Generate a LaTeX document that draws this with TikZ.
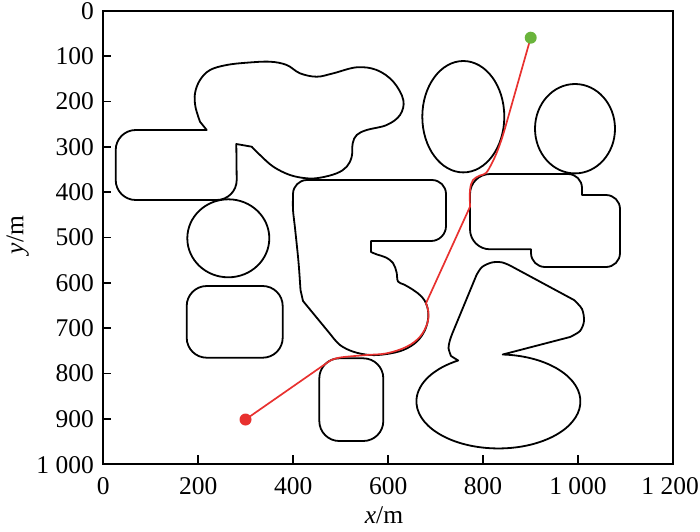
\documentclass[tikz,border=0pt]{standalone}
\usepackage{fontspec}
\setmainfont{Liberation Serif}
\definecolor{pathred}{HTML}{E8312F}
\definecolor{goalgreen}{HTML}{6AB43C}
\begin{document}
\begin{tikzpicture}[x=1pt,y=-1pt,
  obst/.style={draw=black, line width=1.8pt, line join=round},
  frame/.style={draw=black, line width=1.8pt},
  tickmark/.style={draw=black, line width=1.6pt},
  route/.style={draw=pathred, line width=1.7pt, line join=round},
  ticklab/.style={font=\fontsize{25.5}{30}\selectfont, inner sep=0pt},
  dotnode/.style={circle, inner sep=0pt, minimum size=12pt}]
\useasboundingbox (0,0) rectangle (700,531);

% frame and ticks
\draw[frame] (103.3,10.7) rectangle (673,464);
\foreach \xx in {198.25,293.2,388.15,483.1,578.05}
  \draw[tickmark] (\xx,464) -- (\xx,455);
\foreach \yy in {56,101.4,146.7,192,237.4,282.7,328,373.3,418.7}
  \draw[tickmark] (103.3,\yy) -- (111.3,\yy);

% y labels
\foreach \v/\yy in {0/11,100/56,200/101.4,300/146.7,400/192,500/237.4,600/282.7,700/328,800/373.3,900/418.7}
  \node[ticklab, anchor=east] (ylab\v) at (94,\yy) {\v};
\node[ticklab, anchor=east] (ylab1000) at (94,465) {1 000};
% x labels
\foreach \v/\xx in {0/103.3,200/198.25,400/293.2,600/388.15,800/483.1}
  \node[ticklab] (xlab\v) at (\xx,486) {\v};
\node[ticklab] (xlab1000) at (578.05,486) {1 000};
\node[ticklab, anchor=east] (xlab1200) at (699,486) {1 200};
% axis titles
\node[ticklab, anchor=base] (xtitle) at (384,523) {\textit{x}/m};
\node[ticklab, anchor=base, rotate=90] (ytitle) at (23.3,235) {\textit{y}/m};

% obstacle A: rounded rectangle merged with cloud
\draw[obst] (206.7,130) -- plot[smooth, tension=0.6] coordinates {(200,121.7) (195.5,107) (195,93.3) (200,80) (210,70) (226.7,65) (246.7,62.7) (270,61.7) (286.7,65) (300,73.3) (316.7,76.7) (333.3,73.3) (356.7,67.3) (376.7,70) (393.3,81.7) (403.3,100) (400,115) (386.7,125) (366.7,130) (356.7,135) (352.7,143.3) (351.7,156.7) (346.7,166.7) (336.7,173.3) (320,177.7) (306.7,178.3) (290,175) (273.3,166.7) (260,155) (251.7,146.7)}
  -- (236.3,144) -- (236.7,180) arc[start angle=0,end angle=90,radius=20]
  -- (135.7,200) arc[start angle=90,end angle=180,radius=20]
  -- (115.7,150) arc[start angle=180,end angle=270,radius=20] -- cycle;

% circle left
\draw[obst] (228.3,238.3) ellipse[x radius=41, y radius=39];
% rounded rectangles
\draw[obst, rounded corners=20pt] (186.7,286) rectangle (282.7,357.7);
\draw[obst, rounded corners=20pt] (319.3,358.3) rectangle (383.3,441);

% obstacle B: central shape
\draw[obst] (307,180) -- (432,180) arc[start angle=270,end angle=360,radius=14]
  -- (446,226) arc[start angle=0,end angle=90,radius=15] -- (371,241)
  -- plot[smooth, tension=0.6] coordinates {(371,252) (377,254.5) (386,257.5) (393,263) (396.5,272) (398,281.5) (404,284.5) (413.3,290) (421.7,296.7) (426.7,305) (428.3,316.7) (425,330) (416.7,341.7) (403.3,350) (386.7,354) (370,355) (353.3,351.7) (340,345) (331,335)}
  -- (303,301)
  -- plot[smooth] coordinates {(300.5,290) (298.5,262) (295,228) (293,210) (293,194)}
  arc[start angle=180,end angle=270,radius=14] -- cycle;

% ellipses top
\draw[obst] (463.3,116.7) ellipse[x radius=41, y radius=55.7];
\draw[obst] (575,128.7) ellipse[x radius=40, y radius=44.7];

% obstacle C: right compound rectangle
\draw[obst] (490,174) -- (568,174) arc[start angle=270,end angle=360,radius=14]
  -- (582,195) -- (606,195) arc[start angle=270,end angle=360,radius=14]
  -- (620,253) arc[start angle=0,end angle=90,radius=14]
  -- (545,267) arc[start angle=90,end angle=180,radius=14]
  -- (531,249.3) -- (490,249.3) arc[start angle=90,end angle=180,radius=20]
  -- (470,194) arc[start angle=180,end angle=270,radius=20] -- cycle;

% obstacle F: bottom right
\draw[obst] (502.7,354.5) arc[start angle=-87, end angle=240.6, x radius=82, y radius=47]
  -- plot[smooth] coordinates {(451,356) (448.5,348) (450,340) (452.5,333)}
  -- plot[smooth] coordinates {(476.5,275) (482,267) (491.7,262.5) (501.7,262.3) (510,265.5)}
  -- plot[smooth] coordinates {(574,300) (582,309) (584,321) (580,331) (570,337)}
  -- cycle;

% start and goal
\node[dotnode] (start) at (245.5,419.5) {};
\node[dotnode] (goal) at (530.7,37.7) {};
\draw[route] (start.center) -- (330,360.7)
  -- plot[smooth, tension=0.6] coordinates {(330,360.7) (340,357.5) (366.7,355) (386.7,353.3) (406.7,346.7) (420,336.7) (427.3,323.3) (428.3,311.7) (426,303.3)}
  -- plot[smooth, tension=0.6] coordinates {(470,206.7) (470,190) (473,180) (480,175.5) (486,173) (492,163) (497,152) (501.7,139) (505,128.3)}
  -- (goal.center);
\fill[pathred] (start) circle[radius=6pt];
\fill[goalgreen] (goal) circle[radius=6pt];
\end{tikzpicture}
\end{document}
